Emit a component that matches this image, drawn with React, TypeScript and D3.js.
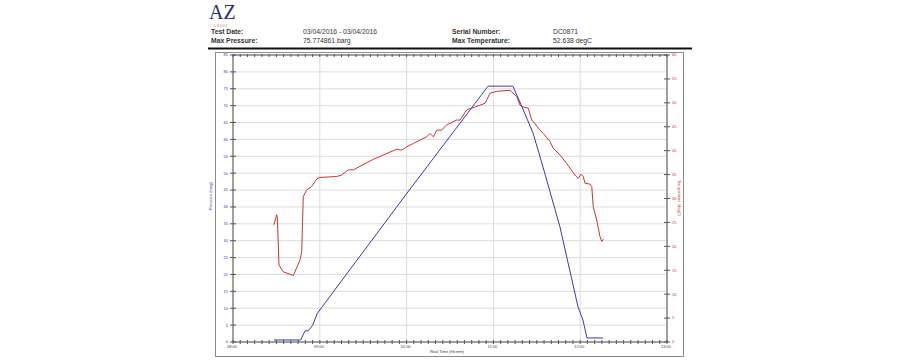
import React from "react";
import * as d3 from "d3";

const headerLabels = ["Test Date:", "Max Pressure:", "Serial Number:", "Max Temperature:"];
const headerValues = ["03/04/2016 - 03/04/2016", "75.774861 barg", "DC0871", "52.638 degC"];

const pressureTimes = [
  "08:28:18", "08:46:48", "08:49:48", "08:52:00", "08:55:06", "08:58:18", "10:00:18",
  "10:56:18", "11:13:30", "11:19:48", "11:27:24", "11:34:18", "11:46:00", "11:58:30",
  "12:01:54", "12:04:42", "12:15:42",
];
const pressureValues = [
  0.6, 0.6, 3.3, 3.3, 5.0, 8.5, 44.1, 75.77, 75.77, 69.6, 61.9, 51.8, 34.1, 10.4, 6.5, 1.2, 1.2,
];

const temperatureTimes = [
  "08:28:18", "08:30:12", "08:30:36", "08:31:48", "08:34:36", "08:41:42", "08:46:18", "08:47:30",
  "08:48:36", "08:50:54", "08:54:24", "08:57:54", "09:00:06", "09:11:42", "09:15:06", "09:19:42",
  "09:23:12", "09:37:00", "09:53:12", "09:56:36", "10:00:06", "10:04:36", "10:13:54", "10:16:12",
  "10:18:30", "10:20:48", "10:24:18", "10:27:42", "10:34:36", "10:36:54", "10:41:30", "10:45:00",
  "10:50:42", "10:54:12", "10:57:36", "11:02:18", "11:11:30", "11:16:06", "11:18:24", "11:20:42",
  "11:24:06", "11:26:30", "11:28:42", "11:31:00", "11:34:30", "11:39:06", "11:41:24", "11:46:00",
  "11:50:42", "11:56:24", "11:58:42", "12:00:30", "12:02:06", "12:03:18", "12:06:48", "12:08:00",
  "12:09:00", "12:11:24", "12:13:42", "12:14:54", "12:16:00",
];
const temperatureValues = [
  24.5, 26.6, 26.2, 16.1, 14.7, 13.9, 17.1, 18.9,
  30.4, 31.8, 32.5, 34.1, 34.4, 34.6, 34.9, 36.0,
  36.0, 38.2, 40.3, 40.1, 40.8, 41.5, 42.9, 43.6,
  42.9, 44.3, 44.3, 45.4, 46.4, 46.4, 48.5, 48.9,
  49.5, 49.9, 52.0, 52.4, 52.638, 51.3, 49.5, 49.1,
  48.9, 46.4, 45.7, 44.7, 43.6, 41.9, 40.5, 39.1,
  37.3, 34.9, 34.2, 35.1, 34.6, 33.2, 33.0, 32.5,
  28.3, 25.5, 22.0, 21.0, 21.5,
];

const xDomain = ["08:00:00", "13:00:00"];
const pressureTicks = d3.range(0, 86, 5);
const temperatureTicks = d3.range(0, 61, 5);

const parse = d3.timeParse("%H:%M:%S");
const fmt = d3.timeFormat("%H:%M");

export default function App() {
  const W = 900, H = 360;
  const L = 233, R = 667, T = 55, B = 342;
  const x = d3.scaleTime().domain(xDomain.map((s) => parse(s) as Date)).range([L, R]);
  const yP = d3.scaleLinear().domain([0, 85]).range([B, T]);
  const yT = d3.scaleLinear().domain([0, 60]).range([B, T]);

  const pData = pressureTimes.map((t, i) => ({ t: parse(t) as Date, v: pressureValues[i] }));
  const tData = temperatureTimes.map((t, i) => ({ t: parse(t) as Date, v: temperatureValues[i] }));

  const pLine = d3.line<{ t: Date; v: number }>().x((d) => x(d.t)).y((d) => yP(d.v));
  const tLine = d3.line<{ t: Date; v: number }>().x((d) => x(d.t)).y((d) => yT(d.v));

  const minorTicks = x.ticks(d3.timeMinute.every(5) as any);
  const hourTicks = x.ticks(d3.timeHour.every(1) as any);

  const font = "Liberation Sans, Arial, sans-serif";
  const axisColor = "#555";
  const blue = "#3b3ba6";
  const red = "#c0393b";

  const colX = [211, 303, 452, 553];

  return (
    <svg width={W} height={H} style={{ position: "absolute", left: 0, top: 0 }} fontFamily={font}>
      <rect x={0} y={0} width={W} height={H} fill="#fff" />
      {/* Logo */}
      <text x={209} y={19} fontFamily="Liberation Serif, Times New Roman, serif" fontSize={20} fill="#2d2d6e">AZ</text>
      <text x={214} y={26.5} fontFamily="Liberation Serif, serif" fontSize={3.2} fill="#c27aa6" letterSpacing={0.6}>GROUP</text>
      {/* Header */}
      <text x={colX[0]} y={34} fontSize={6.8} fontWeight="bold" fill="#333">{headerLabels[0]}</text>
      <text x={colX[0]} y={42.5} fontSize={6.8} fontWeight="bold" fill="#333">{headerLabels[1]}</text>
      <text x={colX[1]} y={34} fontSize={6.8} fill="#333">{headerValues[0]}</text>
      <text x={colX[1]} y={42.5} fontSize={6.8} fill="#333">{headerValues[1]}</text>
      <text x={colX[2]} y={34} fontSize={6.8} fontWeight="bold" fill="#333">{headerLabels[2]}</text>
      <text x={colX[2]} y={42.5} fontSize={6.8} fontWeight="bold" fill="#333">{headerLabels[3]}</text>
      <text x={colX[3]} y={34} fontSize={6.8} fill="#333">{headerValues[2]}</text>
      <text x={colX[3]} y={42.5} fontSize={6.8} fill="#333">{headerValues[3]}</text>
      <line x1={208} x2={692} y1={48.5} y2={48.5} stroke="#111" strokeWidth={2} />

      {/* Outer frame */}
      <rect x={215.5} y={52.5} width={468} height={304} fill="none" stroke="#8a8a8a" strokeWidth={1} />

      {/* Grid */}
      {pressureTicks.map((v) => (
        <line key={"gh" + v} x1={L} x2={R} y1={yP(v)} y2={yP(v)} stroke="#dcdcdc" strokeWidth={1} />
      ))}
      {hourTicks.map((d, i) => (
        <line key={"gv" + i} x1={x(d)} x2={x(d)} y1={T} y2={B} stroke="#dcdcdc" strokeWidth={1} />
      ))}

      {/* Axes lines */}
      <line x1={L} x2={L} y1={T} y2={B} stroke={axisColor} />
      <line x1={R} x2={R} y1={T} y2={B} stroke={axisColor} />
      <line x1={L} x2={R} y1={B} y2={B} stroke={axisColor} />
      <line x1={L} x2={R} y1={T} y2={T} stroke={axisColor} />

      {/* X ticks */}
      {minorTicks.map((d, i) => (
        <g key={"xt" + i}>
          <line x1={x(d)} x2={x(d)} y1={B - 2} y2={B + 2} stroke={axisColor} />
          <line x1={x(d)} x2={x(d)} y1={T - 1} y2={T + 2} stroke={axisColor} />
        </g>
      ))}
      {hourTicks.map((d, i) => (
        <text key={"xl" + i} x={x(d) - 1} y={348} fontSize={4} textAnchor="middle" fill="#444">{fmt(d)}</text>
      ))}
      <text x={447} y={353} fontSize={4} textAnchor="middle" fill="#333">Real Time (hh:mm)</text>

      {/* Left axis */}
      {pressureTicks.map((v) => (
        <g key={"yl" + v}>
          <line x1={L - 3} x2={L + 3} y1={yP(v)} y2={yP(v)} stroke={axisColor} />
          <text x={L - 5} y={yP(v) + 1.4} fontSize={4} textAnchor="end" fill={blue}>{v}</text>
        </g>
      ))}
      <text transform={`translate(212,196) rotate(-90)`} fontSize={4} textAnchor="middle" fill={blue}>Pressure (barg)</text>

      {/* Right axis */}
      {temperatureTicks.map((v) => (
        <g key={"yr" + v}>
          <line x1={R - 3} x2={R + 3} y1={yT(v)} y2={yT(v)} stroke={axisColor} />
          <text x={R + 5} y={yT(v) + 1.4} fontSize={4} textAnchor="start" fill={red}>{v}</text>
        </g>
      ))}
      <text transform={`translate(678,198) rotate(90)`} fontSize={4} textAnchor="middle" fill={red}>Temperature (degC)</text>

      {/* Series */}
      <path d={tLine(tData) || ""} fill="none" stroke={red} strokeWidth={1} />
      <path d={pLine(pData) || ""} fill="none" stroke={blue} strokeWidth={1} />
    </svg>
  );
}
